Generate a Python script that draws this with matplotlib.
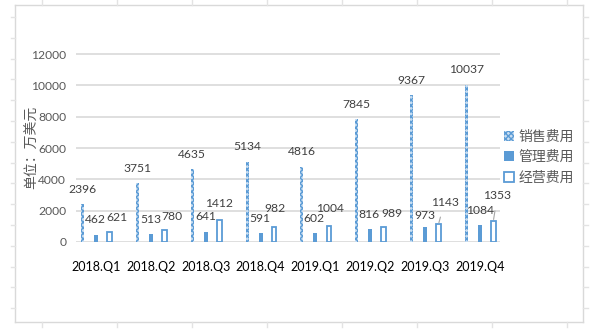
import matplotlib
matplotlib.use("Agg")
import matplotlib.pyplot as plt
from matplotlib.patches import Patch
from matplotlib.lines import Line2D
import numpy as np

categories = ["2018.Q1", "2018.Q2", "2018.Q3", "2018.Q4",
              "2019.Q1", "2019.Q2", "2019.Q3", "2019.Q4"]
sales = [2396, 3751, 4635, 5134, 4816, 7845, 9367, 10037]
admin = [462, 513, 641, 591, 602, 816, 973, 1084]
operating = [621, 780, 1412, 982, 1004, 989, 1143, 1353]
series_names = ["销售费用", "管理费用", "经营费用"]
y_ticks = [0, 2000, 4000, 6000, 8000, 10000, 12000]
y_label = "单位：万美元"

# label offsets in pixels (style)
admin_off = [(-1, 15), (0, 14), (0, 15), (-1, 14), (-1, 14), (-1, 15), (0, 11), (0, 15)]
op_off = [(7, 15), (8, 13), (0, 16), (1, 18), (1, 18), (8, 13), (6, 22), (4, 25)]
op_leader = [False, False, False, False, False, False, True, True]

W, H = 598, 334
fig = plt.figure(figsize=(W / 100, H / 100), dpi=100)
fig.patch.set_facecolor("white")

BLUE = "#5b9bd5"
GRID = "#d9d9d9"
TXT = "#595959"
LBL = "#404040"
num_font = "Lato"
cjk = ["Noto Sans CJK SC", "DejaVu Sans"]
NFS = 8.7

def px_line(x0, y0, x1, y1, color=GRID, lw=1.0):
    fig.add_artist(Line2D([x0 / W, x1 / W], [1 - y0 / H, 1 - y1 / H],
                          transform=fig.transFigure, color=color, lw=lw))

px_line(15, 5, 583, 5)
px_line(15, 322, 583, 322)
px_line(15, 5, 15, 322)
px_line(583, 5, 583, 322)
for k in range(15):
    yy = 17 + 20.8 * k
    px_line(11, yy, 15, yy, color="#e3e3e3")
    px_line(583, yy, 588, yy, color="#e3e3e3")
for k in range(8):
    xx = 42 + 75 * k
    px_line(xx, 0, xx, 5, color="#e3e3e3")
    px_line(xx, 322, xx, 327, color="#e3e3e3")

ymax = 12500
ppu = (242 - 54) / 12000
top_px = 242 - ymax * ppu
left_px, right_px = 76, 500
ax = fig.add_axes([left_px / W, (H - 242) / H, (right_px - left_px) / W, (242 - top_px) / H])
ax.set_xlim(-0.366, 7.366)
ax.set_ylim(0, ymax)
for s in ax.spines.values():
    s.set_visible(False)
ax.set_yticks(y_ticks)
ax.yaxis.grid(True, color=GRID, lw=1.2)
ax.set_axisbelow(True)
ax.tick_params(axis="y", length=0, pad=7, labelcolor=TXT, labelsize=NFS)
for t in ax.get_yticklabels():
    t.set_fontfamily(num_font)

x = np.arange(len(categories))
ax.set_xticks(x)
ax.set_xticklabels(categories, fontfamily=num_font, fontsize=9, color="black")
ax.tick_params(axis="x", length=0, pad=14)

off = 0.245
ax.bar(x - off, sales, width=0.055, color="#c9def2", edgecolor=BLUE,
       hatch="xxxxxx", linewidth=0)
ax.bar(x, admin, width=0.075, color=BLUE, linewidth=0)
ax.bar(x + off, operating, width=0.085, color="white", edgecolor=BLUE,
       linewidth=1.3)

for i in range(len(categories)):
    ax.annotate(str(sales[i]), xy=(x[i] - off, sales[i]), xytext=(0, 15),
                textcoords="offset pixels", ha="center", va="center",
                fontsize=NFS, color=LBL, fontfamily=num_font)
    ax.annotate(str(admin[i]), xy=(x[i], admin[i]), xytext=admin_off[i],
                textcoords="offset pixels", ha="center", va="center",
                fontsize=NFS, color=LBL, fontfamily=num_font)
    ap = None
    if op_leader[i]:
        ap = dict(arrowstyle="-", color="#a6a6a6", lw=0.8, shrinkA=5, shrinkB=1)
    ax.annotate(str(operating[i]), xy=(x[i] + off, operating[i]), xytext=op_off[i],
                textcoords="offset pixels", ha="center", va="center",
                fontsize=NFS, color=LBL, fontfamily=num_font, arrowprops=ap)

fig.text(32 / W, 1 - 147 / H, y_label, rotation=90, ha="center", va="center",
         fontsize=10, color=TXT, family=cjk)

handles = [Patch(facecolor="#c9def2", edgecolor=BLUE, hatch="xxxxxx", linewidth=0),
           Patch(facecolor=BLUE, linewidth=0),
           Patch(facecolor="white", edgecolor=BLUE, linewidth=1.3)]
leg = fig.legend(handles, series_names, loc="upper left",
                 bbox_to_anchor=(504 / W, 1 - 130 / H), frameon=False,
                 prop={"family": cjk, "size": 10}, handlelength=0.75,
                 handleheight=0.75, handletextpad=0.3, labelspacing=0.45,
                 borderaxespad=0, borderpad=0)
for t in leg.get_texts():
    t.set_color(TXT)

fig.savefig("out.png", dpi=100, facecolor="white")
